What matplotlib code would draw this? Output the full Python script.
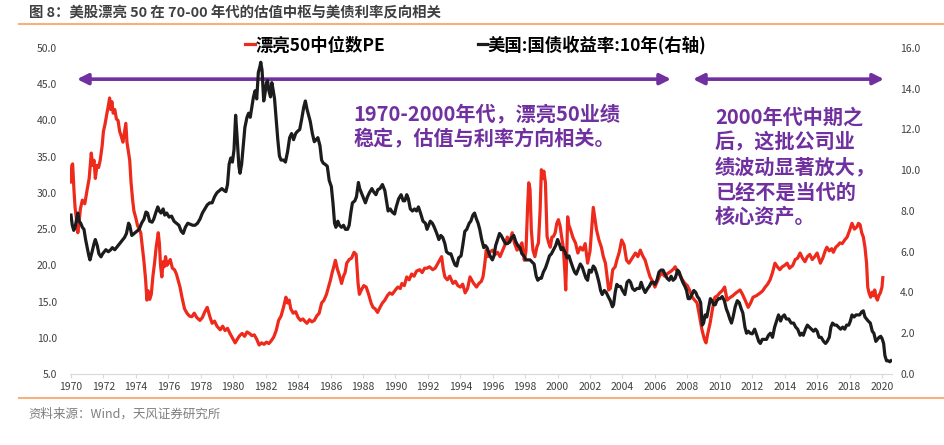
"""美股漂亮50中位数PE vs 美国10年期国债收益率 (1970-2020)."""
import matplotlib
matplotlib.use("Agg")
import matplotlib.pyplot as plt
from matplotlib.lines import Line2D
import numpy as np

plt.rcParams["font.family"] = ["Noto Sans CJK SC", "DejaVu Sans"]
plt.rcParams["axes.unicode_minus"] = False

TITLE = "图 8：美股漂亮 50 在 70-00 年代的估值中枢与美债利率反向相关"
SOURCE = "资料来源：Wind，天风证券研究所"
PE_LABEL = "漂亮50中位数PE"
YIELD_LABEL = "美国:国债收益率:10年(右轴)"
NOTE_LEFT = "1970-2000年代，漂亮50业绩\n稳定，估值与利率方向相关。"
NOTE_RIGHT = "2000年代中期之\n后，这批公司业\n绩波动显著放大，\n已经不是当代的\n核心资产。"

# ---- red: 漂亮50中位数PE (left axis)
pe_t = [
    1970.00, 1970.05, 1970.10, 1970.18, 1970.25, 1970.33, 1970.42, 1970.50, 1970.58, 1970.70,
    1970.85, 1971.00, 1971.12, 1971.25, 1971.33, 1971.42, 1971.50, 1971.60, 1971.70, 1971.80,
    1971.92, 1972.00, 1972.10, 1972.20, 1972.30, 1972.38, 1972.45, 1972.52, 1972.60, 1972.70,
    1972.80, 1972.90, 1973.00, 1973.10, 1973.20, 1973.30, 1973.38, 1973.45, 1973.55, 1973.62,
    1973.70, 1973.80, 1973.88, 1974.00, 1974.10, 1974.20, 1974.30, 1974.40, 1974.50, 1974.60,
    1974.68, 1974.75, 1974.85, 1974.95, 1975.05, 1975.15, 1975.25, 1975.38, 1975.45, 1975.52,
    1975.60, 1975.68, 1975.75, 1975.83, 1975.92, 1976.00, 1976.12, 1976.25, 1976.38, 1976.50,
    1976.62, 1976.72, 1976.85, 1977.00, 1977.15, 1977.30, 1977.45, 1977.60, 1977.75, 1977.95,
    1978.10, 1978.25, 1978.40, 1978.55, 1978.70, 1978.85, 1979.00, 1979.20, 1979.35, 1979.50,
    1979.65, 1979.80, 1980.00, 1980.12, 1980.25, 1980.40, 1980.55, 1980.70, 1980.85, 1981.00,
    1981.15, 1981.30, 1981.45, 1981.60, 1981.75, 1981.90, 1982.05, 1982.20, 1982.35, 1982.50,
    1982.65, 1982.80, 1982.95, 1983.10, 1983.25, 1983.35, 1983.45, 1983.55, 1983.70, 1983.85,
    1984.00, 1984.15, 1984.30, 1984.45, 1984.55, 1984.70, 1984.85, 1985.00, 1985.15, 1985.30,
    1985.45, 1985.60, 1985.75, 1985.90, 1986.00, 1986.10, 1986.20, 1986.30, 1986.42, 1986.55,
    1986.68, 1986.80, 1986.90, 1987.00, 1987.15, 1987.30, 1987.45, 1987.58, 1987.70, 1987.78,
    1987.90, 1988.05, 1988.20, 1988.35, 1988.50, 1988.62, 1988.75, 1988.90, 1989.05, 1989.20,
    1989.35, 1989.50, 1989.65, 1989.80, 1990.00, 1990.15, 1990.30, 1990.40, 1990.55, 1990.70,
    1990.85, 1991.00, 1991.15, 1991.30, 1991.50, 1991.65, 1991.80, 1991.95, 1992.10, 1992.30,
    1992.45, 1992.60, 1992.75, 1992.85, 1992.95, 1993.05, 1993.20, 1993.35, 1993.55, 1993.70,
    1993.85, 1994.00, 1994.15, 1994.30, 1994.45, 1994.60, 1994.70, 1994.80, 1995.00, 1995.15,
    1995.30, 1995.40, 1995.50, 1995.60, 1995.70, 1995.80, 1996.00, 1996.15, 1996.30, 1996.45,
    1996.60, 1996.75, 1996.90, 1997.05, 1997.20, 1997.35, 1997.50, 1997.65, 1997.80, 1997.95,
    1998.05, 1998.15, 1998.22, 1998.30, 1998.38, 1998.48, 1998.60, 1998.72, 1998.82, 1998.92,
    1999.00, 1999.08, 1999.15, 1999.25, 1999.35, 1999.45, 1999.55, 1999.65, 1999.75, 1999.85,
    1999.95, 2000.05, 2000.15, 2000.25, 2000.35, 2000.45, 2000.50, 2000.56, 2000.62, 2000.70,
    2000.80, 2000.95, 2001.10, 2001.25, 2001.40, 2001.55, 2001.70, 2001.85, 2002.00, 2002.12,
    2002.20, 2002.30, 2002.40, 2002.55, 2002.70, 2002.82, 2002.95, 2003.05, 2003.15, 2003.25,
    2003.40, 2003.55, 2003.65, 2003.80, 2003.95, 2004.10, 2004.25, 2004.40, 2004.60, 2004.80,
    2004.95, 2005.10, 2005.25, 2005.40, 2005.55, 2005.70, 2005.85, 2006.00, 2006.15, 2006.30,
    2006.45, 2006.60, 2006.80, 2007.00, 2007.15, 2007.25, 2007.40, 2007.55, 2007.70, 2007.85,
    2008.00, 2008.15, 2008.30, 2008.45, 2008.60, 2008.75, 2008.90, 2009.05, 2009.15, 2009.25,
    2009.40, 2009.55, 2009.70, 2009.85, 2010.00, 2010.15, 2010.30, 2010.45, 2010.60, 2010.80,
    2011.00, 2011.25, 2011.40, 2011.60, 2011.75, 2011.90, 2012.05, 2012.25, 2012.50, 2012.65,
    2012.80, 2012.95, 2013.10, 2013.25, 2013.40, 2013.55, 2013.70, 2013.85, 2014.00, 2014.15,
    2014.30, 2014.50, 2014.65, 2014.80, 2014.95, 2015.10, 2015.25, 2015.40, 2015.55, 2015.70,
    2015.85, 2016.00, 2016.10, 2016.20, 2016.35, 2016.50, 2016.60, 2016.75, 2016.90, 2017.00,
    2017.15, 2017.30, 2017.40, 2017.55, 2017.70, 2017.85, 2018.00, 2018.15, 2018.30, 2018.45,
    2018.55, 2018.65, 2018.75, 2018.85, 2018.95, 2019.05, 2019.12, 2019.20, 2019.30, 2019.40,
    2019.50, 2019.55, 2019.65, 2019.72, 2019.80, 2019.90, 2020.00, 2020.05,
]
pe_v = [
    31.5, 33.8, 34.0, 30.5, 28.0, 26.5, 24.5, 26.0, 27.8, 29.0,
    28.5, 30.5, 32.0, 35.5, 33.8, 34.5, 32.0, 33.8, 33.5, 34.5,
    36.5, 38.5, 39.5, 40.8, 42.0, 43.1, 41.5, 42.6, 41.0, 41.5,
    40.2, 40.0, 38.5, 37.8, 37.0, 38.5, 39.6, 37.0, 35.5, 34.5,
    31.5, 29.0, 27.5, 26.5, 25.5, 25.0, 24.5, 22.5, 20.5, 18.0,
    15.2, 16.5, 15.3, 16.0, 18.5, 20.3, 22.5, 24.5, 23.0, 20.0,
    18.4, 20.5, 19.8, 21.2, 20.0, 20.3, 20.8, 19.6, 19.4, 18.8,
    17.8, 17.0, 15.5, 14.0, 13.4, 13.0, 12.9, 13.4, 12.8, 12.4,
    12.8, 13.6, 14.2, 13.0, 12.0, 12.3, 11.6, 11.1, 11.6, 11.0,
    11.3, 10.6, 9.8, 9.3, 9.8, 10.3, 10.6, 10.2, 10.8, 10.6,
    10.3, 10.4, 9.8, 9.0, 9.3, 9.1, 9.4, 9.2, 9.6, 10.1,
    11.0, 12.4, 13.0, 14.2, 15.6, 14.8, 15.2, 14.0, 13.4, 13.6,
    12.8, 12.4, 12.6, 12.2, 12.0, 12.5, 12.2, 12.4, 13.0, 13.4,
    14.8, 15.2, 16.0, 17.2, 18.0, 19.0, 19.8, 20.7, 19.5, 18.6,
    17.5, 18.5, 19.0, 20.3, 20.8, 21.0, 21.8, 21.5, 17.5, 16.0,
    16.6, 17.2, 17.0, 16.0, 14.8, 14.2, 14.0, 13.5, 14.2, 14.8,
    15.2, 15.8, 16.2, 16.0, 16.6, 17.0, 16.8, 17.5, 17.2, 18.4,
    18.0, 18.8, 18.5, 19.2, 19.4, 19.0, 19.6, 19.6, 19.8, 19.4,
    19.6, 20.2, 20.8, 21.2, 19.5, 18.4, 18.0, 18.5, 17.5, 17.8,
    17.2, 17.0, 17.4, 16.2, 16.8, 18.4, 18.0, 17.6, 17.0, 17.5,
    17.8, 18.4, 20.0, 22.1, 21.2, 21.8, 22.1, 21.5, 21.8, 21.2,
    22.0, 22.8, 23.9, 23.2, 24.5, 23.0, 22.1, 22.5, 23.1, 20.7,
    22.0, 28.0, 31.4, 30.5, 24.9, 22.1, 21.2, 22.5, 23.1, 27.5,
    33.2, 32.0, 33.0, 31.4, 24.0, 23.1, 22.5, 23.9, 24.0, 24.5,
    25.8, 26.3, 25.5, 23.9, 22.5, 19.0, 16.6, 21.0, 26.7, 25.5,
    24.9, 23.8, 23.1, 21.7, 22.5, 22.1, 23.0, 20.3, 22.0, 25.5,
    28.0, 26.5, 24.9, 23.5, 22.5, 21.2, 20.3, 18.4, 16.6, 16.8,
    19.4, 19.8, 20.7, 21.8, 23.5, 22.8, 20.7, 20.3, 21.0, 21.7,
    21.2, 22.1, 21.3, 20.7, 19.5, 18.4, 17.8, 17.0, 17.8, 18.6,
    18.9, 18.5, 18.9, 19.2, 19.5, 19.8, 19.0, 18.6, 18.0, 17.5,
    17.2, 16.5, 15.6, 15.2, 14.8, 13.0, 11.1, 9.8, 9.3, 10.5,
    12.0, 14.0, 15.6, 15.8, 16.2, 16.5, 17.0, 15.2, 15.5, 15.8,
    16.2, 16.6, 16.0, 15.0, 14.2, 14.8, 15.6, 15.8, 16.2, 16.5,
    17.0, 17.4, 18.0, 19.0, 20.3, 19.8, 19.4, 19.8, 20.0, 20.3,
    19.6, 20.0, 20.8, 21.0, 21.7, 21.0, 20.5, 21.2, 21.5, 20.8,
    21.2, 21.7, 21.0, 20.3, 21.0, 22.0, 22.5, 22.0, 22.3, 21.8,
    22.5, 22.8, 23.1, 23.0, 23.5, 23.9, 24.8, 25.8, 25.0, 25.3,
    25.8, 25.6, 24.5, 23.9, 22.5, 20.3, 17.0, 16.2, 15.6, 16.3,
    15.8, 16.6, 15.5, 15.2, 15.8, 16.2, 17.0, 18.3,
]

# ---- black: 美国10年期国债收益率 (right axis, %)
yld_t = [
    1970.00, 1970.08, 1970.17, 1970.25, 1970.35, 1970.42, 1970.50, 1970.60, 1970.70, 1970.80,
    1970.90, 1971.00, 1971.10, 1971.17, 1971.30, 1971.42, 1971.50, 1971.62, 1971.72, 1971.85,
    1971.95, 1972.05, 1972.15, 1972.30, 1972.45, 1972.55, 1972.70, 1972.85, 1973.00, 1973.15,
    1973.30, 1973.42, 1973.55, 1973.62, 1973.75, 1973.90, 1974.05, 1974.20, 1974.35, 1974.50,
    1974.62, 1974.72, 1974.85, 1975.00, 1975.10, 1975.22, 1975.35, 1975.45, 1975.55, 1975.68,
    1975.78, 1975.90, 1976.05, 1976.20, 1976.35, 1976.50, 1976.65, 1976.80, 1976.92, 1977.05,
    1977.20, 1977.35, 1977.50, 1977.65, 1977.80, 1977.95, 1978.10, 1978.25, 1978.40, 1978.55,
    1978.70, 1978.85, 1979.00, 1979.15, 1979.30, 1979.45, 1979.55, 1979.65, 1979.75, 1979.85,
    1979.95, 1980.05, 1980.15, 1980.25, 1980.35, 1980.42, 1980.52, 1980.62, 1980.72, 1980.85,
    1980.95, 1981.05, 1981.15, 1981.25, 1981.35, 1981.45, 1981.55, 1981.65, 1981.70, 1981.78,
    1981.88, 1981.95, 1982.05, 1982.12, 1982.20, 1982.30, 1982.38, 1982.45, 1982.55, 1982.65,
    1982.75, 1982.85, 1982.95, 1983.10, 1983.22, 1983.35, 1983.48, 1983.60, 1983.72, 1983.85,
    1983.95, 1984.10, 1984.22, 1984.35, 1984.45, 1984.55, 1984.65, 1984.75, 1984.88, 1985.00,
    1985.12, 1985.22, 1985.35, 1985.45, 1985.55, 1985.65, 1985.80, 1985.92, 1986.05, 1986.15,
    1986.25, 1986.33, 1986.45, 1986.55, 1986.68, 1986.80, 1986.92, 1987.05, 1987.15, 1987.25,
    1987.35, 1987.50, 1987.60, 1987.72, 1987.80, 1987.90, 1988.00, 1988.15, 1988.28, 1988.40,
    1988.55, 1988.65, 1988.80, 1988.92, 1989.05, 1989.20, 1989.35, 1989.45, 1989.55, 1989.68,
    1989.80, 1989.95, 1990.05, 1990.20, 1990.35, 1990.48, 1990.58, 1990.70, 1990.80, 1990.92,
    1991.05, 1991.18, 1991.30, 1991.42, 1991.55, 1991.70, 1991.85, 1991.95, 1992.05, 1992.15,
    1992.28, 1992.40, 1992.55, 1992.68, 1992.80, 1992.92, 1993.05, 1993.15, 1993.30, 1993.42,
    1993.55, 1993.68, 1993.78, 1993.90, 1994.05, 1994.15, 1994.28, 1994.40, 1994.55, 1994.65,
    1994.78, 1994.88, 1995.00, 1995.10, 1995.20, 1995.32, 1995.45, 1995.55, 1995.65, 1995.78,
    1995.90, 1995.98, 1996.08, 1996.18, 1996.30, 1996.42, 1996.52, 1996.65, 1996.78, 1996.92,
    1997.05, 1997.18, 1997.30, 1997.42, 1997.55, 1997.68, 1997.80, 1997.92, 1998.05, 1998.18,
    1998.30, 1998.42, 1998.55, 1998.68, 1998.78, 1998.90, 1999.00, 1999.12, 1999.25, 1999.38,
    1999.50, 1999.62, 1999.75, 1999.88, 2000.00, 2000.10, 2000.22, 2000.32, 2000.45, 2000.58,
    2000.70, 2000.82, 2000.95, 2001.05, 2001.15, 2001.25, 2001.40, 2001.52, 2001.62, 2001.75,
    2001.85, 2001.95, 2002.08, 2002.20, 2002.30, 2002.42, 2002.55, 2002.65, 2002.75, 2002.88,
    2003.00, 2003.12, 2003.25, 2003.38, 2003.45, 2003.55, 2003.65, 2003.75, 2003.88, 2004.00,
    2004.15, 2004.28, 2004.40, 2004.50, 2004.62, 2004.75, 2004.90, 2005.05, 2005.15, 2005.28,
    2005.40, 2005.55, 2005.65, 2005.78, 2005.90, 2006.00, 2006.12, 2006.25, 2006.38, 2006.50,
    2006.62, 2006.75, 2006.88, 2007.00, 2007.12, 2007.25, 2007.40, 2007.50, 2007.62, 2007.72,
    2007.85, 2007.95, 2008.05, 2008.15, 2008.28, 2008.40, 2008.52, 2008.62, 2008.72, 2008.82,
    2008.92, 2009.00, 2009.10, 2009.20, 2009.32, 2009.42, 2009.52, 2009.62, 2009.72, 2009.82,
    2009.92, 2010.02, 2010.15, 2010.28, 2010.40, 2010.50, 2010.62, 2010.72, 2010.82, 2010.95,
    2011.08, 2011.20, 2011.32, 2011.42, 2011.55, 2011.65, 2011.75, 2011.88, 2012.00, 2012.15,
    2012.28, 2012.40, 2012.50, 2012.62, 2012.75, 2012.88, 2013.00, 2013.12, 2013.25, 2013.38,
    2013.50, 2013.62, 2013.75, 2013.85, 2013.98, 2014.10, 2014.25, 2014.40, 2014.55, 2014.68,
    2014.80, 2014.95, 2015.05, 2015.15, 2015.28, 2015.40, 2015.52, 2015.65, 2015.78, 2015.90,
    2016.00, 2016.12, 2016.25, 2016.40, 2016.52, 2016.62, 2016.75, 2016.85, 2016.95, 2017.08,
    2017.20, 2017.32, 2017.45, 2017.58, 2017.70, 2017.82, 2017.95, 2018.05, 2018.15, 2018.28,
    2018.40, 2018.52, 2018.62, 2018.75, 2018.85, 2018.95, 2019.05, 2019.15, 2019.28, 2019.40,
    2019.50, 2019.62, 2019.72, 2019.82, 2019.92, 2020.00, 2020.10, 2020.18, 2020.28, 2020.38,
    2020.48, 2020.55,
]
yld_v = [
    7.8, 7.3, 7.05, 7.2, 7.6, 7.9, 7.5, 7.4, 7.2, 7.1,
    6.6, 6.2, 5.8, 5.6, 6.0, 6.4, 6.6, 6.3, 5.9, 5.75,
    5.9, 6.0, 6.1, 6.0, 6.1, 6.2, 6.1, 6.25, 6.4, 6.55,
    6.7, 6.9, 7.4, 7.3, 6.8, 6.9, 7.0, 7.1, 7.4, 7.6,
    7.95, 7.9, 7.5, 7.45, 7.6, 7.9, 8.2, 8.0, 7.9, 8.1,
    7.8, 7.9, 7.7, 7.75, 7.5, 7.4, 7.3, 7.0, 6.9, 7.2,
    7.4, 7.35, 7.3, 7.3, 7.4, 7.6, 7.9, 8.1, 8.3, 8.4,
    8.4, 8.7, 8.9, 9.0, 9.1, 9.0, 8.95, 9.3, 10.3, 10.6,
    10.4, 11.0, 12.7, 11.5, 10.2, 9.85, 10.3, 11.2, 12.1, 12.6,
    12.8, 12.6, 13.1, 13.6, 13.9, 13.5, 14.8, 15.1, 15.3, 14.9,
    13.4, 13.7, 14.3, 14.4, 13.9, 13.6, 14.3, 14.0, 13.5, 12.5,
    11.5, 10.7, 10.5, 10.5, 10.4, 10.9, 11.6, 11.8, 11.5, 11.8,
    11.9, 12.0, 12.5, 13.1, 13.4, 13.0, 12.7, 12.4, 11.8, 11.4,
    11.5, 11.6, 11.2, 10.5, 10.35, 10.3, 10.2, 9.5, 9.2, 8.4,
    7.4, 7.2, 7.5, 7.3, 7.2, 7.3, 7.1, 7.1, 7.3, 7.9,
    8.4, 8.5, 8.7, 9.4, 9.1, 8.9, 8.7, 8.4, 8.7, 8.9,
    9.1, 8.95, 8.8, 9.05, 9.1, 9.3, 9.0, 8.5, 8.0, 8.1,
    7.95, 7.85, 8.2, 8.6, 8.8, 8.5, 8.5, 8.8, 8.6, 8.1,
    8.0, 8.1, 8.0, 8.2, 7.9, 7.5, 7.4, 7.1, 7.3, 7.5,
    7.4, 7.2, 6.9, 6.6, 6.8, 6.7, 6.4, 6.0, 5.9, 5.9,
    5.6, 5.35, 5.3, 5.7, 5.8, 6.3, 7.0, 7.1, 7.4, 7.5,
    7.8, 7.9, 7.6, 7.4, 7.1, 6.6, 6.2, 6.3, 6.2, 5.9,
    5.7, 5.6, 5.8, 6.3, 6.6, 6.9, 6.8, 6.6, 6.4, 6.4,
    6.5, 6.7, 6.8, 6.5, 6.3, 6.2, 5.9, 5.8, 5.6, 5.6,
    5.6, 5.5, 5.4, 4.8, 4.6, 4.7, 4.7, 5.0, 5.2, 5.5,
    5.8, 5.9, 6.1, 6.3, 6.6, 6.4, 6.1, 6.2, 6.0, 5.7,
    5.8, 5.5, 5.2, 5.0, 4.9, 5.1, 5.4, 5.25, 5.0, 4.7,
    4.6, 5.1, 5.0, 5.3, 5.2, 4.9, 4.5, 4.1, 3.9, 4.1,
    4.0, 3.8, 3.6, 3.3, 3.4, 4.0, 4.4, 4.3, 4.3, 4.1,
    3.9, 4.5, 4.6, 4.5, 4.2, 4.1, 4.2, 4.2, 4.5, 4.2,
    4.0, 4.2, 4.3, 4.5, 4.5, 4.4, 4.6, 5.0, 5.1, 5.1,
    4.9, 4.7, 4.6, 4.8, 4.6, 4.7, 5.1, 5.0, 4.7, 4.5,
    4.3, 4.1, 3.7, 3.7, 3.9, 4.1, 4.0, 3.8, 3.7, 3.5,
    2.4, 2.5, 2.9, 2.8, 3.3, 3.7, 3.6, 3.4, 3.4, 3.6,
    3.7, 3.7, 3.8, 3.6, 3.2, 3.0, 2.7, 2.5, 2.8, 3.3,
    3.6, 3.5, 3.2, 3.0, 2.3, 2.0, 2.1, 2.0, 1.97, 2.2,
    1.9, 1.6, 1.5, 1.7, 1.7, 1.7, 1.9, 2.0, 1.8, 2.3,
    2.6, 2.9, 2.6, 2.8, 2.9, 2.7, 2.7, 2.5, 2.5, 2.3,
    2.2, 1.9, 2.0, 1.9, 2.2, 2.4, 2.3, 2.2, 2.1, 2.2,
    2.1, 1.8, 1.8, 1.6, 1.5, 1.6, 1.8, 2.3, 2.5, 2.4,
    2.4, 2.3, 2.2, 2.3, 2.2, 2.4, 2.4, 2.6, 2.9, 2.8,
    2.9, 2.9, 2.9, 3.05, 3.1, 2.8, 2.7, 2.6, 2.5, 2.1,
    2.0, 1.6, 1.7, 1.8, 1.85, 1.75, 1.5, 0.9, 0.65, 0.65,
    0.6, 0.65,
]

years = list(range(1970, 2021, 2))
pe_ticks = np.arange(5, 50.1, 5)
yld_ticks = np.arange(0, 16.1, 2)

# arrow spans (years) at PE level of the arrow row
span_left = (1970.37, 2006.99)
span_right = (2008.35, 2020.12)
arrow_level = 45.7

RED = "#EE2A1C"
BLACK = "#1C1C1C"
PURPLE = "#7030A0"
ORANGE = "#F5B27F"
GREY_TXT = "#404040"

W, H = 945, 445
fig = plt.figure(figsize=(W / 100, H / 100), dpi=100)

# plot area in pixels: x 70.4..892, y 48..374
ax = fig.add_axes([70.4 / W, (H - 374) / H, (892 - 70.4) / W, (374 - 48) / H])
ax.set_xlim(1969.963, 2020.617)
ax.set_ylim(5, 50)
ax2 = ax.twinx()
ax2.set_ylim(0, 16)

l1, = ax.plot(pe_t, pe_v, color=RED, lw=2.3, solid_joinstyle="round")
l2, = ax2.plot(yld_t, yld_v, color=BLACK, lw=2.3, solid_joinstyle="round")

for a in (ax, ax2):
    for side in ("top", "left", "right"):
        a.spines[side].set_visible(False)
ax2.spines["bottom"].set_visible(False)
ax.spines["bottom"].set_color("#D9D9D9")
ax.spines["bottom"].set_linewidth(0.8)

ax.set_xticks(years)
ax.set_xticklabels([str(y) for y in years])
ax.set_yticks(pe_ticks)
ax.set_yticklabels([f"{v:.1f}" for v in pe_ticks])
ax2.set_yticks(yld_ticks)
ax2.set_yticklabels([f"{v:.1f}" for v in yld_ticks])

ax.tick_params(axis="x", direction="out", length=3, width=0.8, color="#D9D9D9",
               pad=3, labelsize=7.5, labelcolor=GREY_TXT)
ax.tick_params(axis="y", length=0, pad=9.5, labelsize=7.5, labelcolor=GREY_TXT)
ax2.tick_params(axis="y", length=0, pad=5.8, labelsize=7.5, labelcolor=GREY_TXT)

# ---- purple span arrows + notes
for x0, x1 in (span_left, span_right):
    ax.annotate("", xy=(x0, arrow_level), xytext=(x1, arrow_level),
                arrowprops=dict(arrowstyle="<|-|>", color=PURPLE, lw=2.6,
                                mutation_scale=16, shrinkA=0, shrinkB=0))

ax.text(1987.39, 39.2, NOTE_LEFT, color=PURPLE, fontsize=14.5, fontweight="bold",
        ha="left", va="center", linespacing=1.2)
ax.text(2009.7, 33.6, NOTE_RIGHT, color=PURPLE, fontsize=14.5, fontweight="bold",
        ha="left", va="center", linespacing=1.23)

# ---- legend
fig.legend([l1, l2], [PE_LABEL, YIELD_LABEL], loc="center",
           bbox_to_anchor=(476 / W, 1 - 45 / H), ncol=2, frameon=False,
           handlelength=0.55, handletextpad=0.05, columnspacing=5.3,
           prop=dict(weight="bold", size=12.5), borderpad=0)

# ---- title / source and orange rules
fig.text(29 / W, 1 - 13 / H, TITLE, fontsize=10.4, fontweight="bold",
         color=GREY_TXT, ha="left", va="center")
fig.add_artist(Line2D([19 / W, 1], [1 - 24 / H] * 2, color=ORANGE, lw=1.5))
fig.add_artist(Line2D([19 / W, 1], [1 - 398 / H] * 2, color=ORANGE, lw=1.5))
fig.text(28 / W, 1 - 414 / H, SOURCE, fontsize=9, color="#7F7F7F",
         ha="left", va="center")

fig.savefig("out.png", dpi=100)
